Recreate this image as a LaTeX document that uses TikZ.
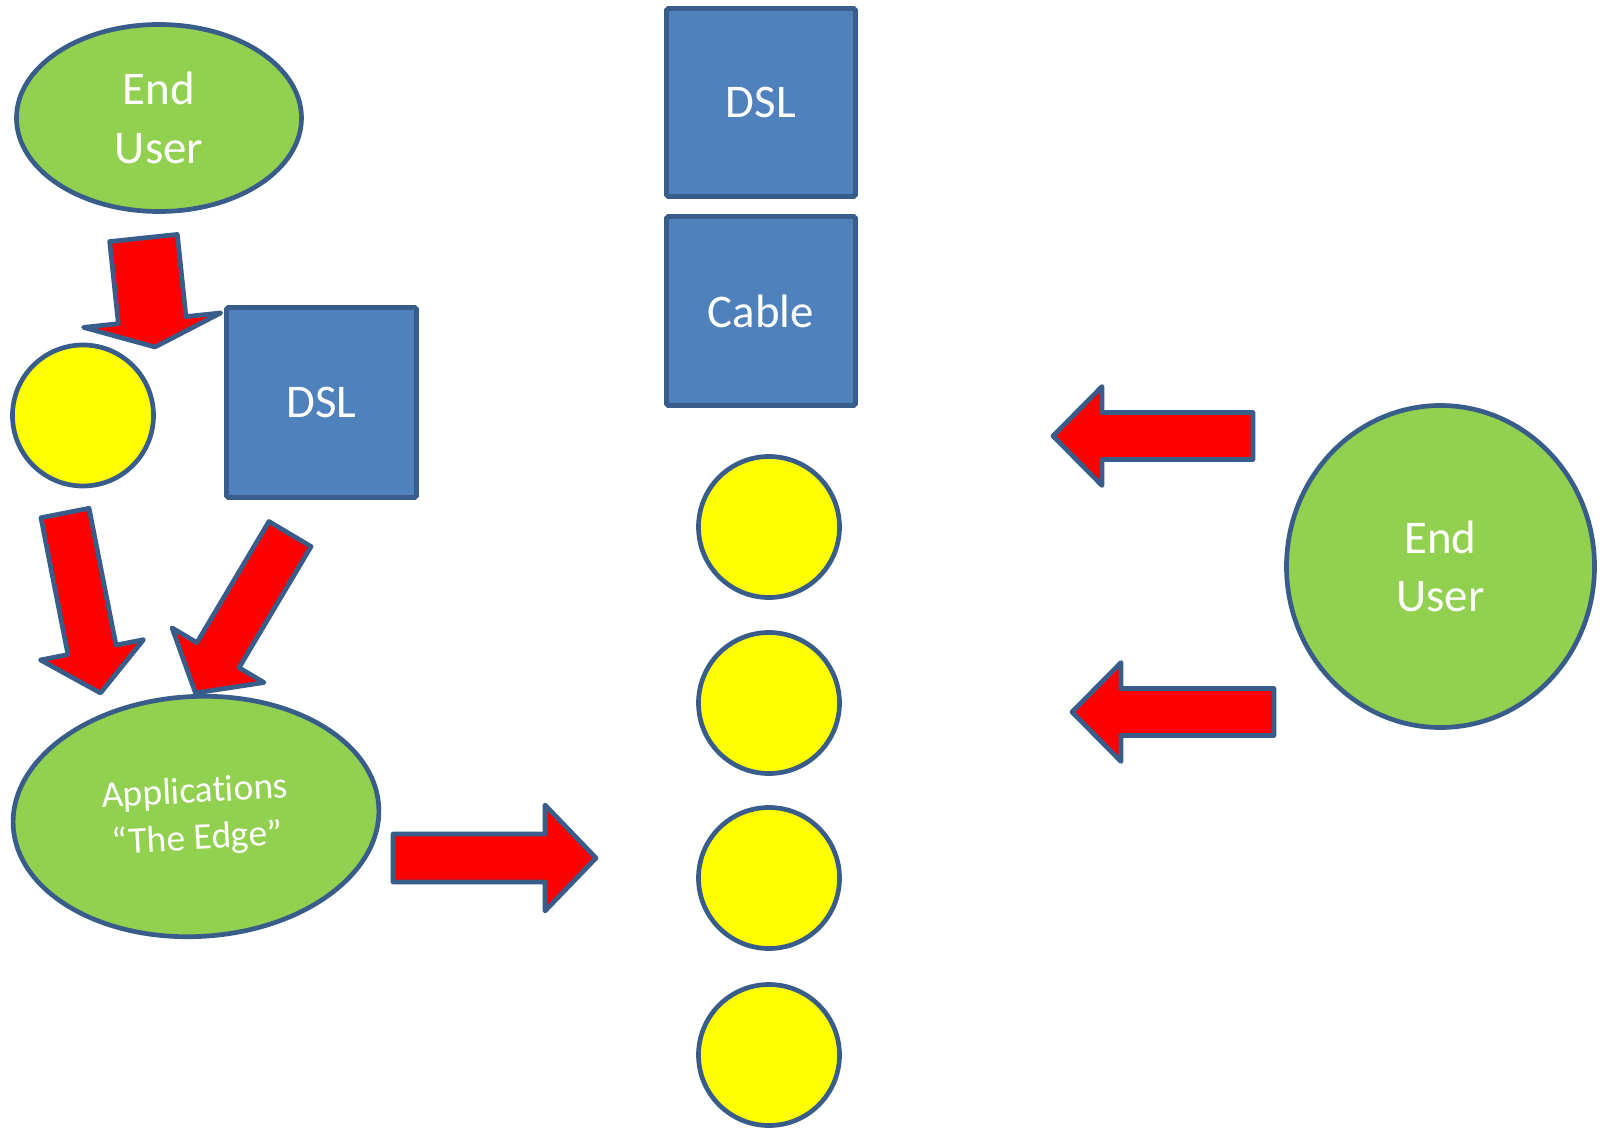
\documentclass[tikz,border=0pt]{standalone}
\usepackage{fontspec}
\setmainfont{Carlito}[Ligatures=NoCommon]
\usetikzlibrary{calc,shapes.geometric}
\definecolor{edgeblue}{HTML}{385D8A}
\definecolor{boxblue}{HTML}{4F81BD}
\definecolor{leaf}{HTML}{92D050}
\definecolor{sun}{HTML}{FFFF00}
\definecolor{redfill}{HTML}{FF0000}
% #1 tail, #2 tip, #3 shaft half width (px), #4 head half width (px), #5 head length (px)
\newcommand\blockarrow[5]{%
  \draw[blockarr] let \p1=($(#2)-(#1)$), \n1={atan2(\y1,\x1)}, \n2={veclen(\x1,\y1)} in
  [shift={(#1)}, rotate=\n1]
  (0pt,-#3) -- ({\n2-#5*0.853583},-#3) -- ({\n2-#5*0.853583},-#4) -- (\n2,0) -- ({\n2-#5*0.853583},#4) -- ({\n2-#5*0.853583},#3) -- (0pt,#3) -- cycle;}
\begin{document}
\begin{tikzpicture}[x=0.03cm,y=0.03cm,
  outl/.style={draw=edgeblue, line width=4pt},
  greenell/.style={outl, ellipse, fill=leaf, inner sep=0pt, text=white, align=center},
  bluebox/.style={outl, rectangle, rounded corners=1.5pt, fill=boxblue, inner sep=0pt, text=white, font=\fontsize{40}{48}\selectfont},
  yball/.style={outl, circle, fill=sun, inner sep=0pt, minimum size=4.23cm},
  blockarr/.style={outl, fill=redfill, line join=round}]
\path[use as bounding box, fill=white] (0,0) rectangle (1600,-1131);

% left group
\node[greenell, minimum width=8.55cm, minimum height=5.61cm, font=\fontsize{40}{50}\selectfont] (eu1) at (159,-118) {End\\User};
\node[yball] (c0) at (83,-415.5) {};
\node[bluebox, minimum width=5.7cm, minimum height=5.7cm] (dsl1) at (321.5,-402.5) {DSL};
\node[greenell, rotate=3, minimum width=10.98cm, minimum height=7.2cm, font=\fontsize{32}{40}\selectfont] (app) at (196,-816.5) {Applications\\“The Edge”};

% middle column
\node[bluebox, minimum width=5.67cm, minimum height=5.64cm] (dsl2) at (761,-102.5) {DSL};
\node[bluebox, minimum width=5.67cm, minimum height=5.67cm] (cable) at (761,-311) {Cable};
\node[yball] (c1) at (769,-527) {};
\node[yball] (c2) at (769,-703) {};
\node[yball] (c3) at (769,-878) {};
\node[yball] (c4) at (769,-1055) {};

% right
\node[greenell, minimum width=9.24cm, minimum height=9.66cm, font=\fontsize{40}{50}\selectfont] (eu2) at (1440.5,-566.5) {End\\User};

% arrow end points
\coordinate (a1t) at (143.5,-238);
\coordinate (a1h) at (155,-347);
\coordinate (a2t) at (65,-513);
\coordinate (a2h) at (100.5,-693);
\coordinate (a3t) at (290,-534);
\coordinate (a3h) at (195.5,-693);
\coordinate (a4t) at (393,-858);
\coordinate (a4h) at (596,-858);
\coordinate (a5t) at (1253,-436);
\coordinate (a5h) at (1053,-436);
\coordinate (a6t) at (1274,-712);
\coordinate (a6h) at (1072,-712);

\blockarrow{a1t}{a1h}{34}{69}{27}
\blockarrow{a2t}{a2h}{24.5}{52.5}{44}
\blockarrow{a3t}{a3h}{24.5}{53.5}{44}
\blockarrow{a4t}{a4h}{24}{53}{51}
\blockarrow{a5t}{a5h}{23.5}{49.5}{49}
\blockarrow{a6t}{a6h}{23.5}{49.5}{49}
\end{tikzpicture}
\end{document}
